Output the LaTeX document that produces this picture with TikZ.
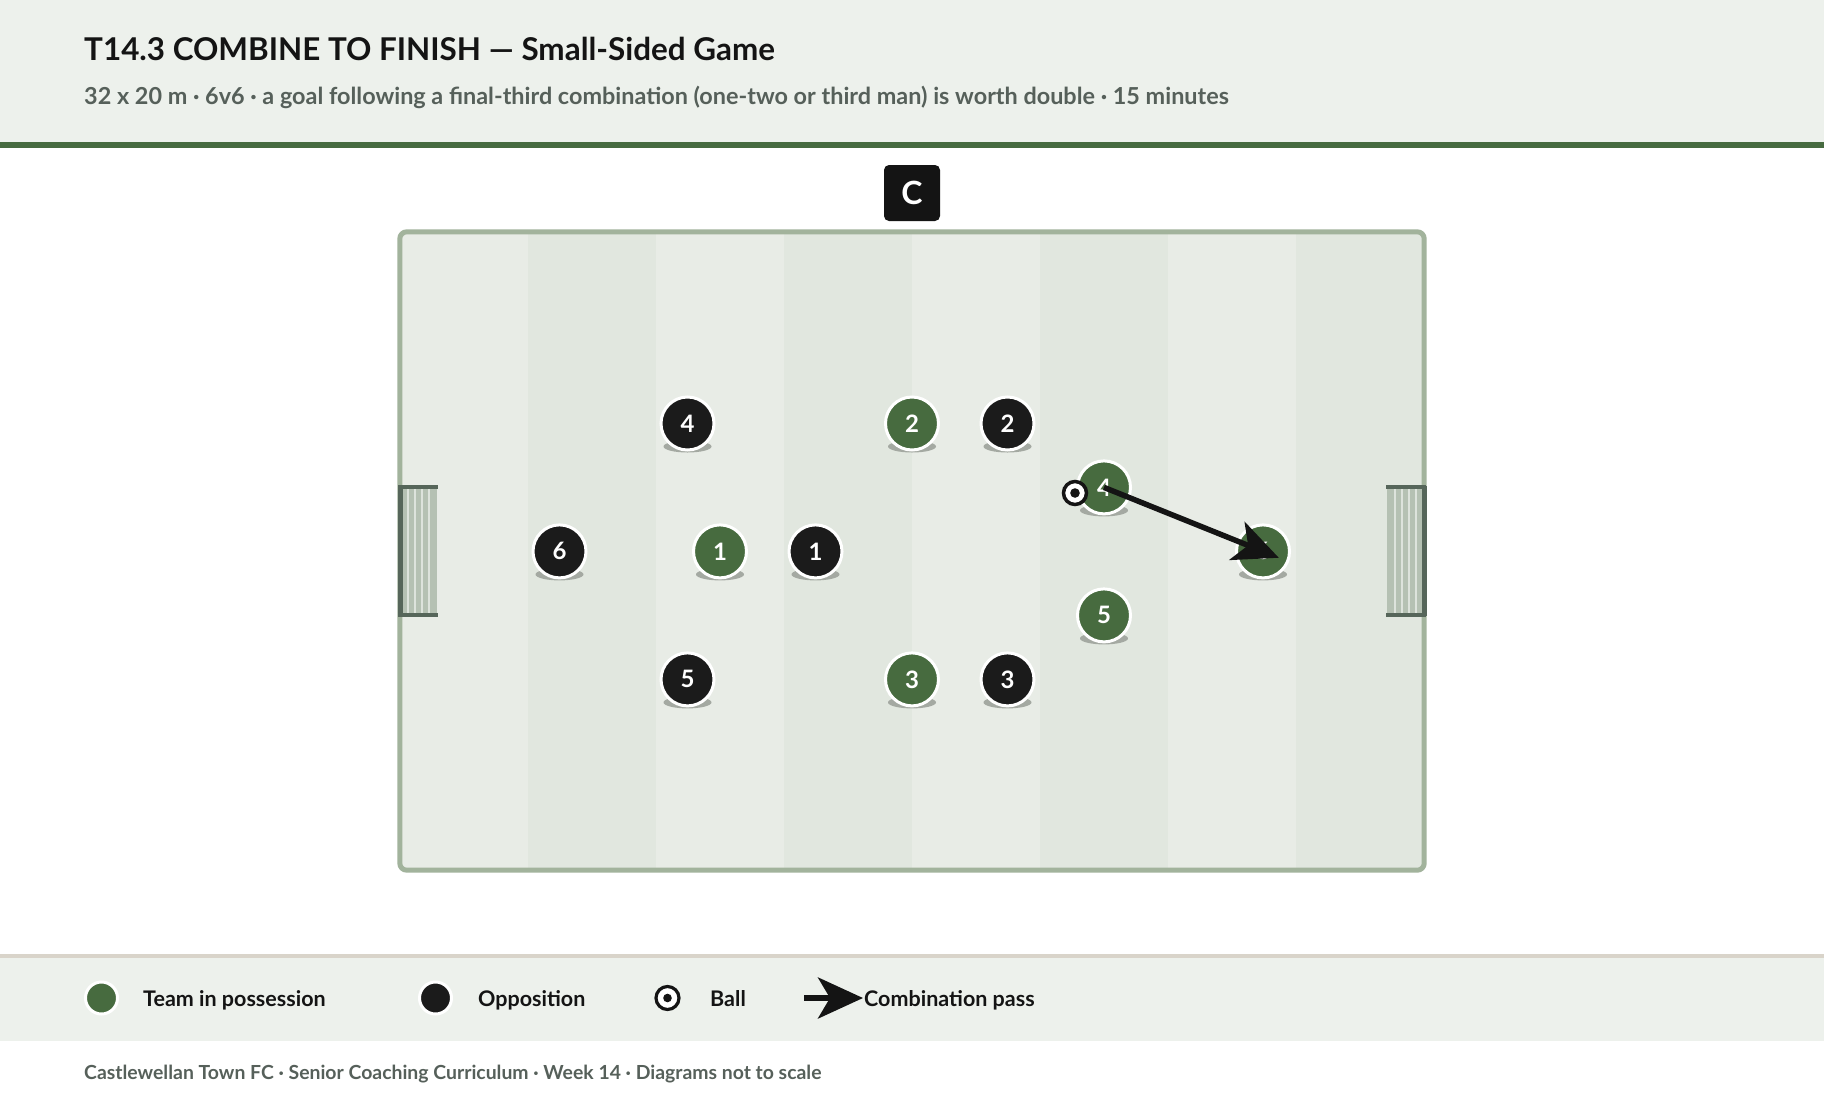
\documentclass[tikz,border=0pt]{standalone}
\usepackage{fontspec}
\setmainfont{Lato}
\usetikzlibrary{arrows.meta,calc}
\definecolor{bandbg}{HTML}{EDF1EC}
\definecolor{rulegreen}{HTML}{476B40}
\definecolor{teamgreen}{HTML}{476B3F}
\definecolor{oppblack}{HTML}{1B1B1B}
\definecolor{coachblack}{HTML}{141414}
\definecolor{stripeA}{HTML}{E8ECE6}
\definecolor{stripeB}{HTML}{E1E7DF}
\definecolor{pitchline}{HTML}{A2B39C}
\definecolor{goaldark}{HTML}{56665A}
\definecolor{netfill}{HTML}{B5C1B3}
\definecolor{subgrey}{HTML}{56605A}
\definecolor{beige}{HTML}{D9D4CA}
\definecolor{shadowgrey}{HTML}{A4A9A2}
\definecolor{inkblack}{HTML}{141414}
\begin{document}
\begin{tikzpicture}[x=1pt,y=-1pt,
  player/.style={circle,minimum size=53pt,inner sep=0pt,draw=white,line width=3pt,
    text=white,font=\fontsize{24}{24}\selectfont\bfseries},
  team/.style={player,fill=teamgreen},
  opp/.style={player,fill=oppblack},
  legdot/.style={circle,minimum size=32pt,inner sep=0pt,draw=white,line width=3pt},
  balloutline/.style={circle,fill=white,draw=inkblack,line width=3.5pt,inner sep=0pt},
  passarrow/.style={draw=inkblack,line width=5.5pt,-{Stealth[length=45pt,width=41pt,inset=12pt]}},
  legtext/.style={anchor=base west,inner sep=0pt,text=inkblack,font=\fontsize{21.5}{21.5}\selectfont\bfseries},
]
\useasboundingbox (0,0) rectangle (1824,1098);
\fill[white] (0,0) rectangle (1824,1098);
% header
\fill[bandbg] (0,0) rectangle (1824,142);
\fill[rulegreen] (0,142) rectangle (1824,148);
\node[anchor=base west,inner sep=0pt,text=inkblack,font=\fontsize{31.4}{31.4}\selectfont\bfseries] (title) at (84,60)
  {T14.3 COMBINE TO FINISH — Small-Sided Game};
\node[anchor=base west,inner sep=0pt,text=subgrey,font=\fontsize{23.4}{23.4}\selectfont\bfseries] (subtitle) at (84,104)
  {32 x 20 m · 6v6 · a goal following a final-third combination (one-two or third man) is worth double · 15 minutes};
% pitch stripes
\foreach \i in {0,...,7}{
  \pgfmathsetmacro{\xa}{400+128*\i}
  \pgfmathsetmacro{\xb}{400+128*(\i+1)}
  \pgfmathparse{mod(\i,2)==0 ? 1 : 0}
  \ifnum\pgfmathresult=1
    \fill[stripeA] (\xa,232) rectangle (\xb,870);
  \else
    \fill[stripeB] (\xa,232) rectangle (\xb,870);
  \fi
}
\draw[pitchline,line width=5pt,rounded corners=7pt] (399.8,231.8) rectangle (1424.2,870.2);
% goals
\fill[netfill] (402,487) rectangle (437,615);
\foreach \x in {408,415,422,429}{\draw[white,opacity=0.55,line width=1.5pt] (\x,489) -- (\x,613);}
\draw[goaldark,line width=5pt] (400,486) -- (400,616);
\draw[goaldark,line width=3.5pt] (398,487) -- (438,487);
\draw[goaldark,line width=3.5pt] (398,615) -- (438,615);
\fill[netfill] (1387,487) rectangle (1422,615);
\foreach \x in {1395,1402,1409,1416}{\draw[white,opacity=0.55,line width=1.5pt] (\x,489) -- (\x,613);}
\draw[goaldark,line width=5pt] (1424,486) -- (1424,616);
\draw[goaldark,line width=3.5pt] (1386,487) -- (1426,487);
\draw[goaldark,line width=3.5pt] (1386,615) -- (1426,615);
% coach
\node[fill=coachblack,rounded corners=5pt,minimum size=56pt,inner sep=0pt,text=white,
  font=\fontsize{32}{32}\selectfont\bfseries] (coach) at (912,193) {C};
% shadows
\foreach \x/\y in {687.5/423.5,1007.5/423.5,559.5/551.4,815.5/551.4,687.5/679.4,1007.5/679.4,
  912/423.5,1104/487.4,720/551.4,1263/551.4,1104/615.4,912/679.4}{
  \fill[shadowgrey] (\x,\y+23) ellipse [x radius=24pt,y radius=6pt];
}
% opposition
\node[opp] (o4) at (687.5,423.5) {4};
\node[opp] (o2) at (1007.5,423.5) {2};
\node[opp] (o6) at (559.5,551.4) {6};
\node[opp] (o1) at (815.5,551.4) {1};
\node[opp] (o5) at (687.5,679.4) {5};
\node[opp] (o3) at (1007.5,679.4) {3};
% team
\node[team] (t2) at (912,423.5) {2};
\node[team] (t4) at (1104,487.4) {4};
\node[team] (t1) at (720,551.4) {1};
\node[team] (t6) at (1263,551.4) {6};
\node[team] (t5) at (1104,615.4) {5};
\node[team] (t3) at (912,679.4) {3};
% ball
\node[balloutline,minimum size=23pt] (ball) at (1075,493) {};
\fill[inkblack] (ball.center) circle (4.8pt);
% pass
\coordinate (passend) at ($(t6.center)!-17pt!(t4.center)$);
\draw[passarrow] (t4.center) -- (passend);
% legend band
\fill[bandbg] (0,957) rectangle (1824,1041);
\fill[beige] (0,954) rectangle (1824,958);
\node[legdot,fill=teamgreen] (lg1) at (101.5,998) {};
\node[legtext] (lt1) at (143,1006.5) {Team in possession};
\node[legdot,fill=oppblack] (lg2) at (435.5,998) {};
\node[legtext] (lt2) at (478,1006.5) {Opposition};
\node[balloutline,minimum size=23pt,line width=3.2pt] (lg3) at (667.5,998) {};
\fill[inkblack] (lg3.center) circle (4.3pt);
\node[legtext] (lt3) at (710,1006.5) {Ball};
\coordinate (lga) at (804,998);
\coordinate (lgb) at (863,998);
\draw[passarrow] (lga) -- (lgb);
\node[legtext] (lt4) at (864,1006.5) {Combination pass};
% footer
\node[anchor=base west,inner sep=0pt,text=subgrey,font=\fontsize{19.4}{19.4}\selectfont\bfseries] (footer) at (84,1079.5)
  {Castlewellan Town FC · Senior Coaching Curriculum · Week 14 · Diagrams not to scale};
\end{tikzpicture}
\end{document}
